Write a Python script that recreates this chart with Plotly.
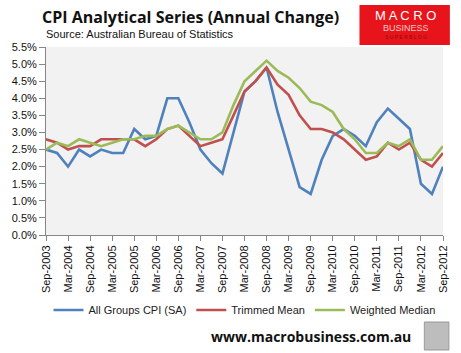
import plotly.graph_objects as go

quarters = []
for y in range(2003, 2013):
    for m in ["Mar", "Jun", "Sep", "Dec"]:
        quarters.append(f"{m}-{y}")
quarters = quarters[2:2 + 37]  # Sep-2003 .. Sep-2012

cpi_sa = [2.5, 2.4, 2.0, 2.5, 2.3, 2.5, 2.4, 2.4, 3.1, 2.8, 2.9, 4.0, 4.0, 3.3, 2.5, 2.1, 1.8,
          3.0, 4.2, 4.5, 4.9, 3.6, 2.5, 1.4, 1.2, 2.2, 2.9, 3.1, 2.9, 2.6, 3.3, 3.7, 3.4, 3.1,
          1.5, 1.2, 2.0]
trimmed_mean = [2.8, 2.7, 2.5, 2.6, 2.6, 2.8, 2.8, 2.8, 2.8, 2.6, 2.8, 3.1, 3.2, 2.9, 2.6, 2.7, 2.8,
                3.5, 4.2, 4.5, 4.9, 4.4, 4.1, 3.5, 3.1, 3.1, 3.0, 2.8, 2.5, 2.2, 2.3, 2.7, 2.5, 2.7,
                2.2, 2.0, 2.4]
weighted_median = [2.5, 2.7, 2.6, 2.8, 2.7, 2.6, 2.7, 2.8, 2.8, 2.9, 2.9, 3.1, 3.2, 3.0, 2.8, 2.8, 3.0,
                   3.8, 4.5, 4.8, 5.1, 4.8, 4.6, 4.3, 3.9, 3.8, 3.6, 3.1, 2.8, 2.4, 2.4, 2.7, 2.6, 2.8,
                   2.2, 2.2, 2.6]
series_names = ["All Groups CPI (SA)", "Trimmed Mean", "Weighted Median"]
colors = ["#4F81BD", "#C0504D", "#9BBB59"]
y_ticks = [i * 0.5 for i in range(12)]
y_tick_labels = [f"{v:.1f}%" for v in y_ticks]

W, H = 461, 353
L, R, T, B = 42, 446, 47, 235

def px(x):
    return (x - L) / (R - L)

def py(y):
    return (B - y) / (B - T)

fig = go.Figure()
for name, vals, c in zip(series_names, [cpi_sa, trimmed_mean, weighted_median], colors):
    fig.add_trace(go.Scatter(x=quarters, y=vals, name=name, mode="lines",
                             line=dict(color=c, width=2.6)))

font = "Liberation Sans"
fig.update_layout(
    width=W, height=H,
    margin=dict(l=L, r=W - R, t=T, b=H - B),
    paper_bgcolor="white", plot_bgcolor="#F2F2F2",
    showlegend=True,
    legend=dict(orientation="h", x=0.5, xanchor="center", y=py(310), yanchor="middle",
                font=dict(family=font, size=11, color="#222"), itemwidth=30,
                tracegroupgap=0, bgcolor="rgba(0,0,0,0)"),
    xaxis=dict(type="category", range=[0, 36], tickmode="array",
               tickvals=quarters[::2], ticktext=quarters[::2], tickangle=-90,
               ticks="outside", ticklen=5, tickcolor="#868686", showline=True,
               linecolor="#868686", linewidth=1, showgrid=False, zeroline=False,
               tickfont=dict(family=font, size=11, color="#111")),
    yaxis=dict(range=[0, 5.5], tickmode="array", tickvals=y_ticks, ticktext=y_tick_labels,
               ticks="outside", ticklen=6,
               tickcolor="#868686", showline=True, linecolor="#868686", linewidth=1,
               showgrid=False, zeroline=False,
               tickfont=dict(family=font, size=11, color="#111")),
)

fig.add_annotation(text="<b>CPI Analytical Series (Annual Change)</b>", xref="paper", yref="paper",
                   x=px(36), y=py(17), xanchor="left", yanchor="middle", showarrow=False,
                   font=dict(family="Open Sans", size=16, color="#111"))
fig.add_annotation(text="Source: Australian Bureau of Statistics", xref="paper", yref="paper",
                   x=px(40), y=py(34), xanchor="left", yanchor="middle", showarrow=False,
                   font=dict(family=font, size=11, color="#111"))

# logo
fig.add_shape(type="rect", xref="paper", yref="paper", x0=px(361), x1=px(453), y0=py(45), y1=py(5),
              fillcolor="#E8141B", line=dict(width=0), layer="above")
fig.add_annotation(text="M A C R O", xref="paper", yref="paper", x=px(408), y=py(16), showarrow=False,
                   font=dict(family=font, size=13, color="white"), xanchor="center", yanchor="middle")
fig.add_annotation(text="BUSINESS", xref="paper", yref="paper", x=px(408), y=py(28), showarrow=False,
                   font=dict(family=font, size=9, color="#F7C8C8"), xanchor="center", yanchor="middle")
fig.add_annotation(text="S U P E R B L O G", xref="paper", yref="paper", x=px(408), y=py(37), showarrow=False,
                   font=dict(family=font, size=5, color="#8A1010"), xanchor="center", yanchor="middle")

fig.add_annotation(text="<b>www.macrobusiness.com.au</b>", xref="paper", yref="paper",
                   x=px(415), y=py(336), xanchor="right", yanchor="middle", showarrow=False,
                   font=dict(family="Open Sans", size=14, color="#111"))
fig.add_shape(type="rect", xref="paper", yref="paper", x0=px(427), x1=px(452), y0=py(350), y1=py(322),
              fillcolor="#BDBDBD", line=dict(color="#999", width=1))

fig.write_html("out.html")
